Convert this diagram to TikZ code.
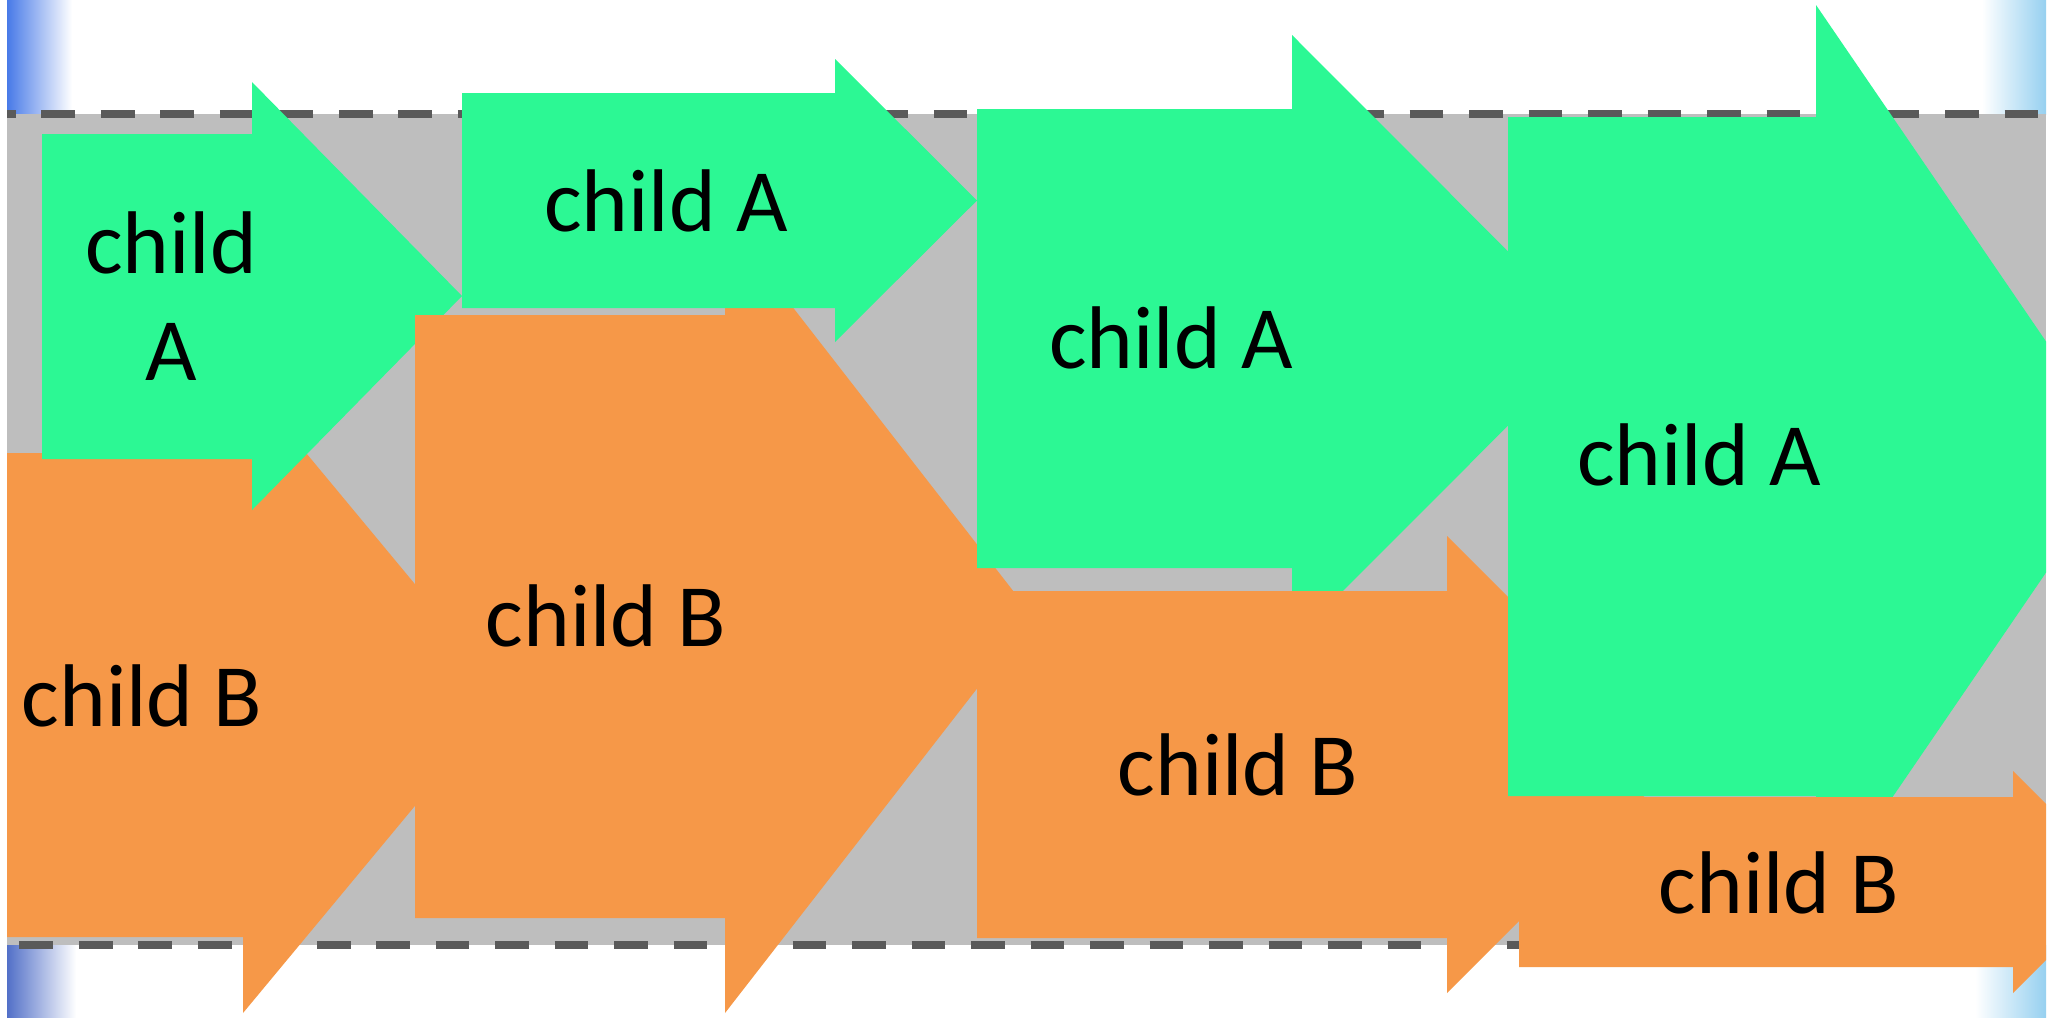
\documentclass[tikz,border=0pt]{standalone}
\usepackage{fontspec}
\setmainfont{Carlito}
\definecolor{arrowgreen}{RGB}{44,248,148}
\definecolor{arroworange}{RGB}{246,152,72}
\definecolor{bandgray}{RGB}{190,190,190}
\definecolor{dashgray}{RGB}{90,90,90}
\definecolor{edgeblue}{RGB}{72,122,232}
\definecolor{edgebluedark}{RGB}{82,112,200}
\definecolor{skyblue}{RGB}{150,208,240}
\begin{document}
\begin{tikzpicture}[x=0.01cm,y=-0.01cm,
  greenarrow/.style={fill=arrowgreen},
  orangearrow/.style={fill=arroworange},
  arrowtext/.style={font=\fontsize{25.3pt}{30.4pt}\selectfont, inner sep=0pt, anchor=base, align=center, text=black},
  bandedge/.style={draw=dashgray, line width=0.08cm, dash pattern=on 0.337cm off 0.2575cm}]
\useasboundingbox (0,0) rectangle (2055,1017);
\fill[white] (0,0) rectangle (2055,1017);

\begin{scope}
  \clip (7,0) rectangle (2046,1017);
  % soft blue edges of the slide background
  \shade[left color=edgeblue, right color=white] (7,0) rectangle (72,114);
  \shade[left color=edgebluedark, right color=white] (7,945) rectangle (76,1017);
  \shade[left color=white, right color=skyblue] (1982,0) rectangle (2046,114);
  \shade[left color=white, right color=skyblue] (1975,945) rectangle (2046,1017);

  % grey band with dashed borders
  \fill[bandgray] (7,114) rectangle (2046,945);
  \draw[bandedge, dash phase=0.25cm] (7,114) -- (2046,114);
  \draw[bandedge, dash phase=0.471cm] (7,945) -- (2046,945);

  % block arrows, back to front
  \fill[orangearrow] (0,453) -- (243,453) -- (243,377) -- (507,695) -- (243,1013) -- (243,937) -- (0,937) -- cycle;
  \fill[greenarrow] (42,134) -- (252,134) -- (252,82) -- (462,296) -- (252,510) -- (252,459) -- (42,459) -- cycle;
  \fill[orangearrow] (415,315) -- (725,315) -- (725,220) -- (1033,616.5) -- (725,1013) -- (725,918) -- (415,918) -- cycle;
  \fill[greenarrow] (462,93) -- (835,93) -- (835,59) -- (977,200.5) -- (835,342) -- (835,308) -- (462,308) -- cycle;
  \fill[greenarrow] (977,109) -- (1292,109) -- (1292,35) -- (1595,338.5) -- (1292,642) -- (1292,568) -- (977,568) -- cycle;
  \fill[orangearrow] (977,591) -- (1447,591) -- (1447,536) -- (1676,764.5) -- (1447,993) -- (1447,938) -- (977,938) -- cycle;
  \fill[greenarrow] (1508,117) -- (1816,117) -- (1816,5) -- (2125,457) -- (1816,909) -- (1816,796) -- (1508,796) -- cycle;
  \fill[orangearrow] (1519,797) -- (2013,797) -- (2013,771) -- (2124,882) -- (2013,993) -- (2013,967) -- (1519,967) -- cycle;
\end{scope}

% labels (a multi-line node sits on the baseline of its last line)
\node[arrowtext] (a1) at (171,380) {child\\A};
\node[arrowtext] (a2) at (666,231) {child A};
\node[arrowtext] (a3) at (1171,368) {child A};
\node[arrowtext] (a4) at (1699,485) {child A};
\node[arrowtext] (b1) at (142,726) {child B};
\node[arrowtext] (b2) at (606,646) {child B};
\node[arrowtext] (b3) at (1238,795) {child B};
\node[arrowtext] (b4) at (1779,913) {child B};
\end{tikzpicture}
\end{document}
